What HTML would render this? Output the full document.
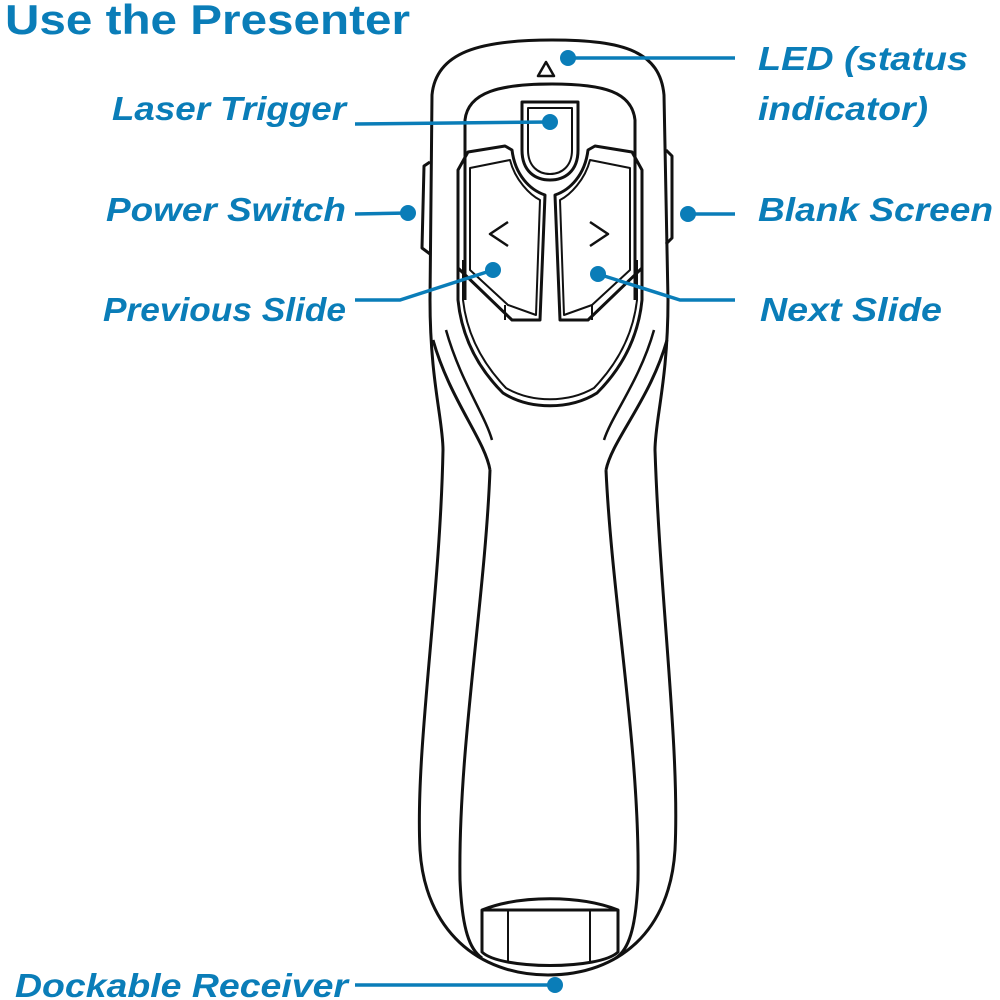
<!DOCTYPE html>
<html><head><style>
html,body{margin:0;padding:0;background:#fff;}
svg{display:block;}
text{font-family:"Liberation Sans",sans-serif;fill:#0a7db8;font-weight:bold;font-style:italic;font-size:33px;}
</style></head><body>
<svg width="1000" height="1000" viewBox="0 0 1000 1000" xmlns="http://www.w3.org/2000/svg">
<text x="5" y="34" style="font-style:normal;font-size:42px" textLength="405" lengthAdjust="spacingAndGlyphs">Use the Presenter</text>

<g fill="none" stroke="#111" stroke-width="3" stroke-linejoin="round">
  <!-- outer body -->
  <path d="M552 40 C625 40 660 52 664 95 L668 300 C668 380 655 420 655 450 C660 600 680 750 675 850 C670 930 620 975 548 975 C478 975 425 930 420 850 C415 750 440 600 443 450 C443 420 430 380 430 300 L432 95 C436 52 480 40 552 40 Z"/>
  <!-- inner top plate -->
  <path d="M465 300 L465 120 C468 92 500 84 552 84 C604 84 632 92 635 120 L635 300"/>
  <!-- face plate -->
  <path d="M458 260 L458 300 C462 340 480 370 503 393 C530 410 570 410 597 393 C620 370 638 340 642 300 L642 260"/>
  <path d="M463 260 L463 300 C467 336 484 365 506 388 C532 403 568 403 594 388 C616 365 633 336 637 300 L637 260" stroke-width="2"/>
  <!-- diagonal side lines -->
  <path d="M433 340 C450 400 485 440 490 470"/>
  <path d="M446 330 C460 380 485 415 492 440" stroke-width="2.5"/>
  <path d="M667 340 C650 400 612 440 606 470"/>
  <path d="M654 330 C640 380 612 415 604 440" stroke-width="2.5"/>
  <!-- inner long panel -->
  <path d="M490 470 C485 600 458 750 460 880 C462 930 470 950 482 958"/>
  <path d="M606 470 C612 600 640 750 638 880 C636 930 628 950 616 958"/>
  <!-- LED triangle -->
  <path d="M546 62 L538 76 L554 76 Z" stroke-width="2.5"/>
  <!-- laser trigger -->
  <path d="M522 102 L578 102 L578 150 C578 172 564 180 550 180 C536 180 522 172 522 150 Z"/>
  <path d="M528 108 L572 108 L572 150 C572 166 562 174 550 174 C538 174 528 166 528 150 Z" stroke-width="2"/>
  <!-- left button -->
  <path d="M468 152 L505 146 L512 150 C515 175 530 190 545 195 L540 320 L512 320 L458 268 L458 170 Z"/>
  <path d="M470 168 L510 160 C515 180 530 195 540 200 L536 315 L508 305 L470 270 Z" stroke-width="2"/>
  <line x1="505" y1="305" x2="505" y2="320" stroke-width="2"/>
  <!-- right button -->
  <path d="M632 152 L595 146 L588 150 C585 175 570 190 555 195 L560 320 L588 320 L642 268 L642 170 Z"/>
  <path d="M630 168 L590 160 C585 180 570 195 560 200 L564 315 L592 305 L630 270 Z" stroke-width="2"/>
  <line x1="592" y1="305" x2="592" y2="320" stroke-width="2"/>
  <!-- arrows -->
  <path d="M508 222 L490 234 L508 246" stroke-width="2.5"/>
  <path d="M590 222 L608 234 L590 246" stroke-width="2.5"/>
  <!-- side buttons -->
  <path d="M430 162 L424 166 L422 248 L430 254"/>
  <path d="M666 150 L672 156 L672 238 L666 244"/>
  <!-- receiver -->
  <path d="M482 910 C520 895 580 895 618 910 L618 952 C600 970 500 970 482 952 Z"/>
  <line x1="482" y1="910" x2="618" y2="910"/>
  <line x1="508" y1="910" x2="508" y2="962" stroke-width="2"/>
  <line x1="590" y1="910" x2="590" y2="962" stroke-width="2"/>
</g>

<g stroke="#0a7db8" stroke-width="3.5" fill="none">
  <line x1="568" y1="58" x2="735" y2="58"/>
  <line x1="355" y1="124" x2="550" y2="122"/>
  <line x1="355" y1="214" x2="408" y2="213"/>
  <line x1="688" y1="214" x2="735" y2="214"/>
  <polyline points="355,300 400,300 493,270"/>
  <polyline points="735,300 680,300 598,274"/>
  <line x1="355" y1="985" x2="555" y2="985"/>
</g>
<g fill="#0a7db8">
  <circle cx="568" cy="58" r="8"/>
  <circle cx="550" cy="122" r="8"/>
  <circle cx="408" cy="213" r="8"/>
  <circle cx="688" cy="214" r="8"/>
  <circle cx="493" cy="270" r="8"/>
  <circle cx="598" cy="274" r="8"/>
  <circle cx="555" cy="985" r="8"/>
</g>

<text x="758" y="70" textLength="210" lengthAdjust="spacingAndGlyphs">LED (status</text>
<text x="758" y="120" textLength="170" lengthAdjust="spacingAndGlyphs">indicator)</text>
<text x="112" y="120" textLength="234" lengthAdjust="spacingAndGlyphs">Laser Trigger</text>
<text x="106" y="221" textLength="240" lengthAdjust="spacingAndGlyphs">Power Switch</text>
<text x="758" y="221" textLength="235" lengthAdjust="spacingAndGlyphs">Blank Screen</text>
<text x="103" y="321" textLength="243" lengthAdjust="spacingAndGlyphs">Previous Slide</text>
<text x="760" y="321" textLength="182" lengthAdjust="spacingAndGlyphs">Next Slide</text>
<text x="15" y="997" textLength="333" lengthAdjust="spacingAndGlyphs">Dockable Receiver</text>
</svg>
</body></html>
